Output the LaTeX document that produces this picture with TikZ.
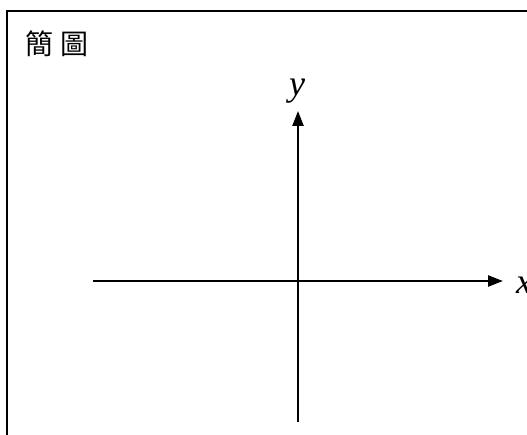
\documentclass[tikz,border=0pt]{standalone}
\usepackage{fontspec}
\setmainfont{Liberation Serif}
\newfontfamily\cjk{Noto Sans CJK TC}
\usetikzlibrary{arrows.meta}

\begin{document}
\begin{tikzpicture}[x=1pt, y=1pt, >={Triangle[length=15pt,width=11pt]}, line width=2.4pt,
  axislabel/.style={font=\fontsize{36}{40}\selectfont\itshape, inner sep=0pt},
  frameline/.style={line width=2.6pt}]
	% 0. 画布大小
	\useasboundingbox (0,0) rectangle (527,434);
	
	% 1. 外框 (右边与下边在图外)
	\draw[frameline] (7,-10) |- (540,423);
	
	% 2. 标题
	\node[anchor=west, inner sep=0pt, font=\cjk\fontsize{28}{30}\selectfont] (title) at (24,390) {簡\hspace{7pt}圖};
	
	% 3. 坐标轴与标签
	\coordinate (ybot) at (298,12);
	\coordinate (xleft) at (93,153);
	\node[axislabel, anchor=base] (ylab) at (297,338) {y};
	\node[axislabel, anchor=base west] (xlab) at (515,141) {x};
	\draw[->, shorten >=6pt] (ybot) -- (ybot |- ylab.south);
	\draw[->, shorten >=12pt] (xleft) -- (xlab.west |- xleft);
	
\end{tikzpicture}
\end{document}
